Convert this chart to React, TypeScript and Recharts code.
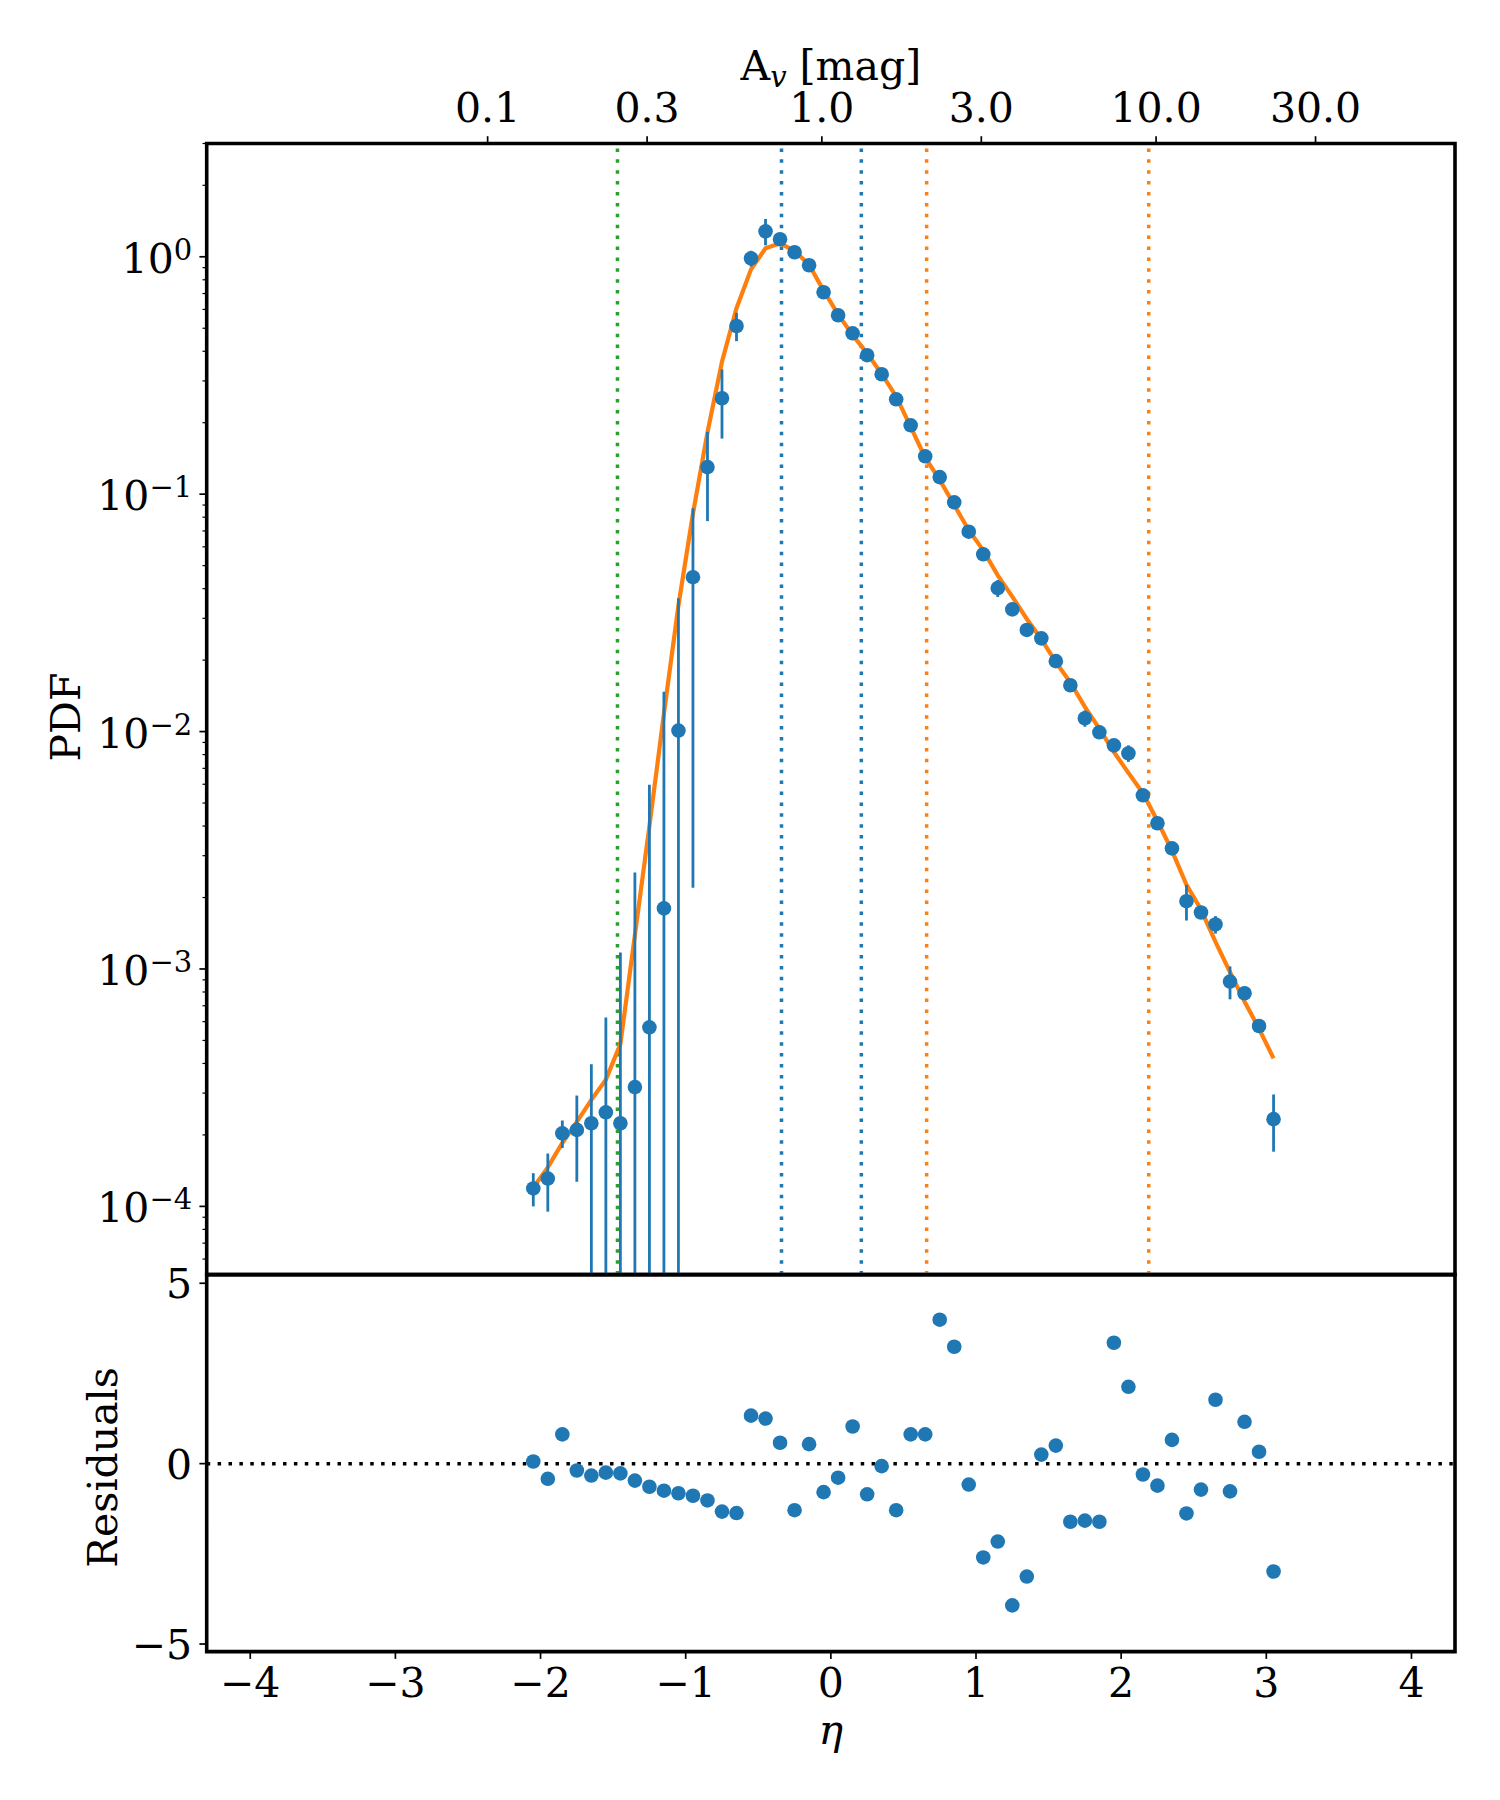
import React from "react";
import {
  ComposedChart,
  Line,
  Scatter,
  ErrorBar,
  XAxis,
  YAxis,
  ReferenceLine,
  ReferenceArea,
} from "recharts";

// bin centres in eta = ln(N / <N>)
const ETA = [
  -2.05, -1.95, -1.85, -1.75, -1.65, -1.55, -1.45, -1.35, -1.25, -1.15, -1.05,
  -0.95, -0.85, -0.75, -0.65, -0.55, -0.45, -0.35, -0.25, -0.15, -0.05, 0.05,
  0.15, 0.25, 0.35, 0.45, 0.55, 0.65, 0.75, 0.85, 0.95, 1.05, 1.15, 1.25, 1.35,
  1.45, 1.55, 1.65, 1.75, 1.85, 1.95, 2.05, 2.15, 2.25, 2.35, 2.45, 2.55, 2.65,
  2.75, 2.85, 2.95, 3.05,
];

const PDF = [
  1.19e-4, 1.31e-4, 2.03e-4, 2.1e-4, 2.24e-4, 2.49e-4, 2.24e-4, 3.18e-4, 5.68e-4,
  1.8e-3, 1.01e-2, 4.47e-2, 0.13, 0.2535, 0.511, 0.985, 1.28, 1.185, 1.045,
  0.921, 0.709, 0.567, 0.476, 0.385, 0.32, 0.251, 0.195, 0.1444, 0.118, 0.0924,
  0.0695, 0.0558, 0.0402, 0.0327, 0.0268, 0.0247, 0.0198, 0.01567, 0.01138,
  0.00993, 0.00875, 0.0081, 0.00539, 0.00411, 0.00322, 0.00193, 0.00173,
  0.00154, 0.000885, 0.00079, 0.000575, 0.000233,
];

const PDF_ERR = [
  1.9e-5, 3.6e-5, 2.7e-5, 8.3e-5, 1.73e-4, 3.75e-4, 9.5e-4, 2.23e-3, 5.4e-3,
  1.29e-2, 2.63e-2, 4.25e-2, 5.3e-2, 8.2e-2, 7.0e-2, 7.5e-2, 0.163, 0.03, 0.02,
  0.015, 0.012, 0.01, 0.008, 0.007, 0.006, 0.005, 0.004, 0.003, 0.0008, 0.0008,
  0.0017, 0.0009, 0.0033, 0.0011, 0.001, 0.0008, 0.0005, 0.0003, 0.0009, 0.0002,
  0.00016, 0.00065, 0.0001, 0.00008, 0.00006, 0.00033, 0.00007, 0.00013,
  0.00014, 0.00005, 0.00003, 0.000063,
];

const FIT = [
  1.2e-4, 1.46e-4, 1.85e-4, 2.27e-4, 2.81e-4, 3.42e-4, 4.83e-4, 1.39e-3, 4.0e-3,
  1.19e-2, 3.4e-2, 8.28e-2, 0.182, 0.361, 0.607, 0.885, 1.086, 1.14, 1.06,
  0.925, 0.72, 0.572, 0.468, 0.392, 0.321, 0.258, 0.192, 0.1425, 0.1148, 0.09,
  0.0705, 0.058, 0.0455, 0.037, 0.0298, 0.0245, 0.0196, 0.0161, 0.0127, 0.0103,
  0.0082, 0.0067, 0.0055, 0.0042, 0.00315, 0.00226, 0.00178, 0.0013, 0.00097,
  0.00073, 0.00056, 0.00042,
];

const RESIDUALS = [
  0.06, -0.42, 0.81, -0.19, -0.33, -0.25, -0.27, -0.47, -0.64, -0.75, -0.82,
  -0.89, -1.02, -1.33, -1.37, 1.33, 1.25, 0.58, -1.29, 0.54, -0.79, -0.39, 1.03,
  -0.85, -0.07, -1.29, 0.81, 0.81, 3.99, 3.24, -0.58, -2.6, -2.16, -3.93, -3.13,
  0.25, 0.5, -1.61, -1.58, -1.61, 3.35, 2.13, -0.3, -0.61, 0.66, -1.38, -0.72,
  1.77, -0.77, 1.16, 0.33, -2.99,
];

// top axis: A_v in mag, eta = ln(A_v) + shift
const AV_TICKS = [0.1, 0.3, 1.0, 3.0, 10.0, 30.0];
const AV_ETA_SHIFT = -0.062;
const ETA_TICKS = [-4, -3, -2, -1, 0, 1, 2, 3, 4];
const RES_TICKS = [-5, 0, 5];

const GREEN_MARKS = [-1.47];
const BLUE_MARKS = [-0.34, 0.21];
const ORANGE_MARKS = [0.66, 2.19];

const X_DOMAIN: [number, number] = [-4.3, 4.3];
const PDF_DOMAIN: [number, number] = [5.16e-5, 3.0];
const RES_DOMAIN: [number, number] = [-5.21, 5.24];

const BLUE = "#1f77b4";
const ORANGE = "#ff7f0e";
const GREEN = "#2ca02c";
const FONT = "'DejaVu Serif', serif";
const DOTS = "3.5 7.4";

const pdfRows = ETA.map((eta, i) => {
  const lo = Math.max(PDF[i] - PDF_ERR[i], PDF_DOMAIN[0]);
  return { eta, pdf: PDF[i], fit: FIT[i], err: [PDF[i] - lo, PDF_ERR[i]] };
});
const resRows = ETA.map((eta, i) => ({ eta, res: RESIDUALS[i] }));

const logTicks: number[] = [];
for (let k = -5; k <= 0; k++) {
  for (let m = 1; m <= 9; m++) {
    const v = m * Math.pow(10, k);
    if (v >= PDF_DOMAIN[0] && v <= PDF_DOMAIN[1]) logTicks.push(v);
  }
}
const avTicks = AV_TICKS.map((a) => Math.log(a) + AV_ETA_SHIFT);

const fmt = (v: number) => (v < 0 ? "\u2212" + Math.abs(v) : String(v));

function LogTick(props: any) {
  const { x, y, payload } = props;
  const lg = Math.log10(payload.value);
  const exp = Math.round(lg);
  const major = Math.abs(lg - exp) < 1e-6;
  return (
    <g>
      <line
        x1={x}
        x2={x - (major ? 7.3 : 4.2)}
        y1={y}
        y2={y}
        stroke="#000"
        strokeWidth={major ? 1.7 : 1.2}
      />
      {major && (
        <text x={x - 14.5} y={y + 16} textAnchor="end" fontFamily={FONT} fontSize={41} fill="#000">
          10<tspan fontSize={29} dy={-13}>{fmt(exp)}</tspan>
        </text>
      )}
    </g>
  );
}

function AvTick(props: any) {
  const { x, y, payload } = props;
  const av = Math.exp(payload.value - AV_ETA_SHIFT);
  return (
    <g>
      <line x1={x} x2={x} y1={y} y2={y - 7.3} stroke="#000" strokeWidth={1.7} />
      <text x={x} y={y - 21.8} textAnchor="middle" fontFamily={FONT} fontSize={41} fill="#000">
        {av.toFixed(1)}
      </text>
    </g>
  );
}

function EtaTick(props: any) {
  const { x, y, payload } = props;
  return (
    <g>
      <line x1={x} x2={x} y1={y} y2={y + 7.3} stroke="#000" strokeWidth={1.7} />
      <text x={x} y={y + 45.5} textAnchor="middle" fontFamily={FONT} fontSize={41} fill="#000">
        {fmt(payload.value)}
      </text>
    </g>
  );
}

function ResTick(props: any) {
  const { x, y, payload } = props;
  return (
    <g>
      <line x1={x} x2={x - 7.3} y1={y} y2={y} stroke="#000" strokeWidth={1.7} />
      <text x={x - 14.5} y={y + 15} textAnchor="end" fontFamily={FONT} fontSize={41} fill="#000">
        {fmt(payload.value)}
      </text>
    </g>
  );
}

const Dot = (p: any) => <circle cx={p.cx} cy={p.cy} r={7.3} fill={BLUE} />;

function VerticalTitle({ viewBox, text, dx, dy }: any) {
  const cx = viewBox.x + dx;
  const cy = viewBox.y + viewBox.height / 2 + dy;
  return (
    <text
      x={cx}
      y={cy}
      transform={`rotate(-90 ${cx} ${cy})`}
      textAnchor="middle"
      fontFamily={FONT}
      fontSize={41}
      fill="#000"
    >
      {text}
    </text>
  );
}

export default function App() {
  return (
    <div style={{ position: "absolute", left: 0, top: 0, width: 1500, height: 1800, background: "#fff" }}>
      <div style={{ position: "absolute", left: 0, top: 0 }}>
        <ComposedChart
          width={1500}
          height={1290}
          data={pdfRows}
          margin={{ top: 83.5, right: 45, bottom: 15.4, left: 0 }}
        >
          <XAxis dataKey="eta" type="number" domain={X_DOMAIN} allowDataOverflow hide />
          <XAxis
            xAxisId="top"
            dataKey="eta"
            orientation="top"
            type="number"
            domain={X_DOMAIN}
            allowDataOverflow
            ticks={avTicks}
            interval={0}
            height={60}
            tickSize={0}
            tickMargin={0}
            axisLine={false}
            tickLine={false}
            tick={(p: any) => <AvTick {...p} />}
            label={(p: any) => (
              <text
                x={p.viewBox.x + p.viewBox.width / 2}
                y={p.viewBox.y + p.viewBox.height - 64}
                textAnchor="middle"
                fontFamily={FONT}
                fontSize={41}
                fill="#000"
              >
                A<tspan fontSize={29} fontStyle="italic" dy={7}>v</tspan>
                <tspan dy={-7}> [mag]</tspan>
              </text>
            )}
          />
          <YAxis
            scale="log"
            type="number"
            domain={PDF_DOMAIN}
            allowDataOverflow
            ticks={logTicks}
            interval={0}
            width={206.7}
            tickSize={0}
            tickMargin={0}
            axisLine={false}
            tickLine={false}
            tick={(p: any) => <LogTick {...p} />}
            label={(p: any) => <VerticalTitle viewBox={p.viewBox} text="PDF" dx={80} dy={8} />}
          />
          {GREEN_MARKS.map((v) => (
            <ReferenceLine key={"g" + v} x={v} stroke={GREEN} strokeWidth={3.5} strokeDasharray={DOTS} />
          ))}
          {BLUE_MARKS.map((v) => (
            <ReferenceLine key={"b" + v} x={v} stroke={BLUE} strokeWidth={3.5} strokeDasharray={DOTS} />
          ))}
          {ORANGE_MARKS.map((v) => (
            <ReferenceLine key={"o" + v} x={v} stroke={ORANGE} strokeWidth={3.5} strokeDasharray={DOTS} />
          ))}
          <Line
            dataKey="fit"
            type="linear"
            stroke={ORANGE}
            strokeWidth={4.2}
            dot={false}
            activeDot={false}
            isAnimationActive={false}
          />
          <Scatter dataKey="pdf" shape={Dot} isAnimationActive={false}>
            <ErrorBar dataKey="err" direction="y" width={0} stroke={BLUE} strokeWidth={2.8} isAnimationActive={false} />
          </Scatter>
          <ReferenceArea
            x1={X_DOMAIN[0]}
            x2={X_DOMAIN[1]}
            y1={PDF_DOMAIN[0]}
            y2={PDF_DOMAIN[1]}
            fill="none"
            stroke="#000"
            strokeWidth={3.6}
            ifOverflow="visible"
          />
        </ComposedChart>
      </div>
      <div style={{ position: "absolute", left: 0, top: 1260 }}>
        <ComposedChart
          width={1500}
          height={540}
          data={resRows}
          margin={{ top: 14.6, right: 45, bottom: 88.4, left: 0 }}
        >
          <XAxis
            dataKey="eta"
            type="number"
            domain={X_DOMAIN}
            allowDataOverflow
            ticks={ETA_TICKS}
            interval={0}
            height={60}
            tickSize={0}
            tickMargin={0}
            axisLine={false}
            tickLine={false}
            tick={(p: any) => <EtaTick {...p} />}
            label={(p: any) => (
              <text
                x={p.viewBox.x + p.viewBox.width / 2}
                y={p.viewBox.y + 92}
                textAnchor="middle"
                fontFamily={FONT}
                fontStyle="italic"
                fontSize={41}
                fill="#000"
              >
                η
              </text>
            )}
          />
          <YAxis
            type="number"
            domain={RES_DOMAIN}
            allowDataOverflow
            ticks={RES_TICKS}
            interval={0}
            width={206.7}
            tickSize={0}
            tickMargin={0}
            axisLine={false}
            tickLine={false}
            tick={(p: any) => <ResTick {...p} />}
            label={(p: any) => <VerticalTitle viewBox={p.viewBox} text="Residuals" dx={116.7} dy={4.4} />}
          />
          <ReferenceLine y={0} stroke="#000" strokeWidth={3.5} strokeDasharray={DOTS} />
          <Scatter dataKey="res" shape={Dot} isAnimationActive={false} />
          <ReferenceArea
            x1={X_DOMAIN[0]}
            x2={X_DOMAIN[1]}
            y1={RES_DOMAIN[0]}
            y2={RES_DOMAIN[1]}
            fill="none"
            stroke="#000"
            strokeWidth={3.6}
            ifOverflow="visible"
          />
        </ComposedChart>
      </div>
    </div>
  );
}
